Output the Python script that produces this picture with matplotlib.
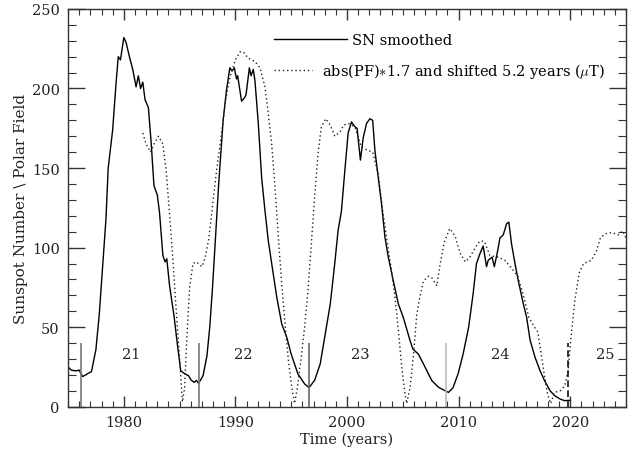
import numpy as np
import matplotlib.pyplot as plt
from matplotlib.ticker import MultipleLocator

# Smoothed sunspot number
sn_year = [1975.0, 1975.3, 1975.7, 1976.0, 1976.3, 1976.6, 1976.8, 1977.1, 1977.5, 1977.8,
           1978.1, 1978.4, 1978.6, 1979.0, 1979.3, 1979.5, 1979.7, 1980.0, 1980.2, 1980.5,
           1980.8, 1981.1, 1981.3, 1981.5, 1981.7, 1981.9, 1982.2, 1982.45, 1982.7, 1983.0,
           1983.2, 1983.5, 1983.7, 1983.85, 1984.1, 1984.5, 1984.8, 1985.1, 1985.5, 1985.8,
           1986.0, 1986.3, 1986.5, 1986.7, 1987.1, 1987.45, 1987.7, 1987.95, 1988.2, 1988.5,
           1988.9, 1989.2, 1989.5, 1989.7, 1989.9, 1990.1, 1990.2, 1990.55, 1990.8, 1990.95,
           1991.25, 1991.4, 1991.6, 1991.75, 1992.05, 1992.35, 1992.65, 1992.95, 1993.25, 1993.7,
           1994.15, 1994.6, 1995.0, 1995.6, 1996.2, 1996.6, 1997.1, 1997.6, 1998.0, 1998.5,
           1998.9, 1999.2, 1999.5, 1999.8, 2000.1, 2000.4, 2000.7, 2000.9, 2001.2, 2001.45,
           2001.75, 2002.05, 2002.3, 2002.5, 2002.8, 2003.1, 2003.4, 2003.7, 2004.15, 2004.6,
           2005.05, 2005.65, 2005.9, 2006.4, 2007.0, 2007.6, 2008.2, 2008.8, 2009.1, 2009.5,
           2009.95, 2010.4, 2010.9, 2011.3, 2011.6, 2011.9, 2012.2, 2012.5, 2012.65, 2013.0,
           2013.2, 2013.5, 2013.7, 2014.0, 2014.3, 2014.5, 2014.75, 2015.05, 2015.35, 2015.8,
           2016.1, 2016.4, 2016.85, 2017.3, 2017.7, 2018.2, 2018.6, 2019.1, 2019.5, 2019.95]
sn_value = [25, 23, 22.5, 23, 19, 20, 21, 22, 36, 58,
            88, 118, 150, 174, 203, 220, 218, 232, 229, 220,
            212, 201, 208, 200, 204, 193, 188, 166, 139, 133,
            122, 95, 91, 93, 76, 57, 39, 22.6, 20.5, 19.5,
            17, 15.3, 16.5, 14.7, 19.5, 32, 50, 75, 105, 140,
            180, 199, 213, 211, 213, 206, 208, 192, 194, 196,
            213, 208, 212, 205, 178, 144, 123, 104, 90, 69,
            52, 43.6, 33, 20.6, 14.3, 12, 16.6, 27, 43.6, 64.6,
            90, 110.7, 123, 148, 172, 179, 176, 175, 155, 169,
            178, 181, 180, 161, 144, 127, 106.5, 94, 79, 64.6,
            56, 41.5, 36.3, 33, 24.8, 16.4, 12.2, 10, 9, 12,
            20.6, 33, 50, 71, 90, 96, 101, 88, 92, 94,
            88, 98, 106, 108, 115, 116, 102, 90, 79, 64.6,
            56, 42, 31, 22.6, 16.4, 10, 7, 4.8, 3.8, 4]

# abs(polar field) * 1.7, shifted by 5.2 years
pf_year = [1981.7, 1982.0, 1982.4, 1982.7, 1983.1, 1983.5, 1983.8, 1984.1, 1984.4, 1984.7,
           1985.0, 1985.25, 1985.45, 1985.65, 1985.9, 1986.2, 1986.5, 1987.0, 1987.3, 1987.6,
           1987.9, 1988.3, 1988.8, 1989.1, 1989.5, 1990.0, 1990.4, 1990.7, 1991.15, 1991.75,
           1992.2, 1992.65, 1992.95, 1993.25, 1993.55, 1993.85, 1994.15, 1994.45, 1994.75, 1995.05,
           1995.3, 1995.55, 1995.9, 1996.2, 1996.5, 1996.8, 1997.1, 1997.4, 1997.7, 1998.1,
           1998.5, 1998.9, 1999.4, 1999.7, 2000.1, 2000.7, 2001.3, 2001.9, 2002.3, 2002.8,
           2003.2, 2003.55, 2004.0, 2004.3, 2004.6, 2004.9, 2005.2, 2005.35, 2005.65, 2005.95,
           2006.25, 2006.55, 2006.85, 2007.3, 2007.6, 2008.05, 2008.3, 2008.7, 2009.2, 2009.7,
           2010.1, 2010.6, 2011.0, 2011.5, 2011.9, 2012.3, 2012.8, 2013.55, 2014.15, 2014.75,
           2015.3, 2015.8, 2016.3, 2016.8, 2017.1, 2017.4, 2017.7, 2018.0, 2018.25, 2018.6,
           2019.1, 2019.5, 2019.8, 2020.05, 2020.4, 2020.8, 2021.2, 2021.9, 2022.35, 2022.7,
           2023.1, 2023.7, 2024.3, 2024.7, 2025.0]
pf_value = [172, 165, 160, 165, 170, 165, 148, 121, 92, 60,
            30, 3, 12, 44, 75, 90, 91, 88, 94, 105,
            123, 148, 174, 192, 207, 218, 223, 223, 219, 217,
            213, 201, 184, 165, 138, 106, 77, 52, 29, 12,
            2, 12, 31, 50, 73, 102, 132, 159, 176, 181,
            177, 170, 173, 177, 178, 176, 163, 161, 160, 146,
            123, 106, 85, 69, 48, 25, 8, 2, 12, 32,
            58, 70, 79, 82, 81, 76, 88, 103, 112, 107,
            97, 91, 94, 100, 104, 104, 95, 94, 92, 87,
            82, 70, 56, 50, 47, 33, 19, 7, 2, 9,
            10, 13, 22, 42, 66, 84, 90, 92, 98, 106,
            108.6, 109.5, 108, 110.5, 106]

# cycle minima markers and cycle numbers
min_year = [1976.2, 1986.7, 1996.6, 2008.9, 2019.8]
min_color = ['#777777', '#777777', '#666666', '#bbbbbb', '#111111']
min_style = ['solid', 'solid', 'solid', 'solid', (0, (4, 2))]
cycles = ['21', '22', '23', '24', '25']
cycle_x = [1980.7, 1990.7, 2001.2, 2013.7, 2023.1]

plt.rcParams['font.family'] = 'DejaVu Serif'
plt.rcParams['mathtext.fontset'] = 'cm'

fig = plt.figure(figsize=(6.31, 4.52), dpi=100)
ax = fig.add_axes([0.1078, 0.098, 0.8843, 0.88])

sn_line, = ax.plot(sn_year, sn_value, color='black', lw=1.0)
pf_line, = ax.plot(pf_year, pf_value, color='#222222', lw=1.0, ls=(0, (1, 2)))

ax.vlines(min_year, 0, 40, colors=min_color, linestyles=min_style, lw=1.2)
for lab, cx in zip(cycles, cycle_x):
    ax.text(cx, 33, lab, ha='center', va='center', fontsize=10.5, color='#222222')

ax.set_xlim(1975, 2025)
ax.set_ylim(0, 250)
ax.xaxis.set_major_locator(MultipleLocator(10))
ax.xaxis.set_minor_locator(MultipleLocator(1))
ax.yaxis.set_major_locator(MultipleLocator(50))
ax.yaxis.set_minor_locator(MultipleLocator(10))
ax.tick_params(which='both', direction='in', top=True, right=True, colors='#333333',
               labelcolor='#222222', labelsize=10.5, pad=6)
ax.tick_params(axis='x', which='major', length=8, width=1)
ax.tick_params(axis='x', which='minor', length=4.5, width=0.8)
ax.tick_params(axis='y', which='major', length=12, width=1)
ax.tick_params(axis='y', which='minor', length=6, width=0.8)
for s in ax.spines.values():
    s.set_color('#333333')
    s.set_linewidth(1.0)

ax.set_xlabel('Time (years)', fontsize=10.5, color='#222222', labelpad=2)
ax.set_ylabel('Sunspot Number \\ Polar Field', fontsize=11, color='#222222', labelpad=3)

leg1 = ax.legend([sn_line], ['SN smoothed'], loc='center left', bbox_to_anchor=(0.369, 0.922),
                 frameon=False, fontsize=10.5, handlelength=5.0, handletextpad=0.35,
                 borderpad=0, borderaxespad=0)
ax.add_artist(leg1)
ax.legend([pf_line], [r'abs(PF)$*$1.7 and shifted 5.2 years ($\mu$T)'], loc='center left',
          bbox_to_anchor=(0.369, 0.844), frameon=False, fontsize=10.5, handlelength=2.6,
          handletextpad=0.7, borderpad=0, borderaxespad=0)

fig.savefig('out.png', dpi=100)
